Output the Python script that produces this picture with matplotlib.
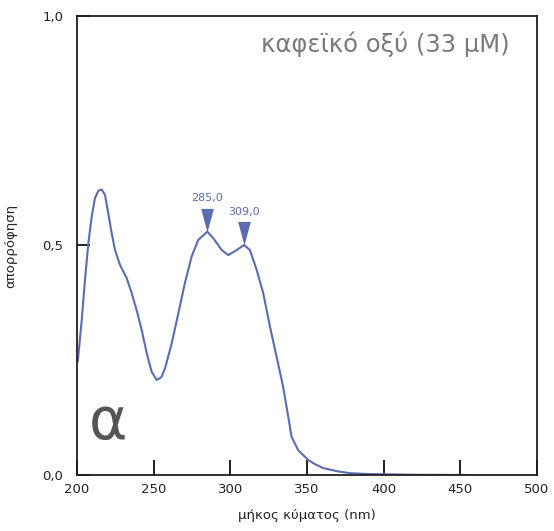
import matplotlib
matplotlib.use("Agg")
import matplotlib.pyplot as plt

# absorption spectrum
wavelength = [200.5, 203.1, 205.2, 207.4, 209.6, 211.7, 213.9, 216.1, 218.3,
              220.4, 222.6, 224.8, 228.0, 232.4, 235.7, 238.9, 242.2, 245.5,
              248.7, 252.0, 255.0, 257.4, 261.8, 266.1, 270.4, 274.8, 279.1,
              285.0, 288.9, 294.4, 298.7, 304.2, 309.0, 312.8, 317.2, 321.5,
              325.9, 330.2, 334.5, 337.8, 340.0, 344.3, 350.8, 355.0, 360.6,
              370.0, 378.0, 390.0, 400.0, 420.0, 455.0]
absorbance = [0.247, 0.338, 0.425, 0.505, 0.563, 0.603, 0.619, 0.622, 0.610,
              0.570, 0.527, 0.490, 0.458, 0.429, 0.396, 0.359, 0.316, 0.265,
              0.225, 0.207, 0.213, 0.232, 0.287, 0.352, 0.418, 0.476, 0.512,
              0.530, 0.516, 0.490, 0.479, 0.490, 0.501, 0.490, 0.447, 0.396,
              0.323, 0.258, 0.192, 0.127, 0.083, 0.054, 0.033, 0.024, 0.015,
              0.008, 0.004, 0.002, 0.0015, 0.0005, 0.0]

peak_x = [285.0, 309.0]
peak_y = [0.530, 0.501]
peak_labels = ["285,0", "309,0"]

xticks = [200, 250, 300, 350, 400, 450, 500]
xticklabels = ["200", "250", "300", "350", "400", "450", "500"]
yticks = [0.0, 0.5, 1.0]
yticklabels = ["0,0", "0,5", "1,0"]

LINE = "#5b6db0"
INK = "#231f20"

fig = plt.figure(figsize=(5.54, 5.31), dpi=100)
ax = fig.add_axes([0.139, 0.1055, 0.830, 0.8645])

ax.plot(wavelength, absorbance, color=LINE, lw=1.5,
        solid_joinstyle="round", solid_capstyle="round")

tri = [(-0.27, 1.0), (0.27, 1.0), (0.0, 0.0)]
ax.plot(peak_x, peak_y, linestyle="none", marker=tri, markersize=34,
        color=LINE, markeredgewidth=0)
for x, y, lab in zip(peak_x, peak_y, peak_labels):
    ax.annotate(lab, (x, y), xytext=(0, 20.5), textcoords="offset points",
                ha="center", va="bottom", fontsize=8, color=LINE)

ax.set_xlim(200, 500)
ax.set_ylim(0, 1.0)
ax.set_xticks(xticks)
ax.set_xticklabels(xticklabels)
ax.set_yticks(yticks)
ax.set_yticklabels(yticklabels)
ax.tick_params(axis="x", direction="in", length=10.5, width=1.4, color=INK,
               labelsize=9.5, pad=6, labelcolor="#222222")
ax.tick_params(axis="y", direction="in", length=9.5, width=1.4, color=INK,
               labelsize=9.5, pad=10, labelcolor="#222222")
for sp in ax.spines.values():
    sp.set_color(INK)
    sp.set_linewidth(1.3)

ax.set_xlabel("μήκος κύματος (nm)", fontsize=9.5, color="#222222", labelpad=9)
ax.set_ylabel("απορρόφηση", fontsize=9.5, color="#222222", labelpad=18)

ax.text(0.941, 0.939, "καφεϊκό οξύ (33 μM)", transform=ax.transAxes,
        ha="right", va="center", fontsize=17.5, color="#7a7a7a")
ax.text(0.068, 0.115, "α", transform=ax.transAxes, ha="center",
        va="center", fontsize=42, color="#555555")

fig.savefig("out.png", dpi=100)
